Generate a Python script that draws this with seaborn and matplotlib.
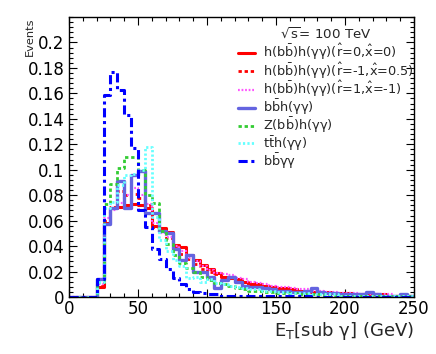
import numpy as np
import matplotlib
matplotlib.use("Agg")
import matplotlib.pyplot as plt
import seaborn as sns
from matplotlib.ticker import MultipleLocator

# ---- data: normalized E_T distributions, 5 GeV bins from 0 to 250 GeV ----
bin_edges = list(range(0, 255, 5))

h_r0_x0 = [0, 0, 0, 0, 0.008, 0.058, 0.070, 0.071, 0.072, 0.073,
           0.072, 0.070, 0.056, 0.054, 0.051, 0.041, 0.039, 0.033, 0.029, 0.025,
           0.022, 0.019, 0.016, 0.015, 0.014, 0.012, 0.010, 0.010, 0.009, 0.008,
           0.007, 0.007, 0.006, 0.005, 0.005, 0.004, 0.004, 0.004, 0.003, 0.003,
           0.003, 0.002, 0.002, 0.002, 0.002, 0.002, 0.001, 0.001, 0.001, 0.001]
h_rm1_x05 = [0, 0, 0, 0, 0.009, 0.060, 0.071, 0.083, 0.080, 0.081,
             0.078, 0.072, 0.055, 0.052, 0.046, 0.039, 0.034, 0.030, 0.026, 0.022,
             0.020, 0.018, 0.016, 0.015, 0.013, 0.012, 0.011, 0.010, 0.009, 0.008,
             0.007, 0.007, 0.006, 0.005, 0.005, 0.004, 0.004, 0.003, 0.003, 0.003,
             0.002, 0.002, 0.002, 0.002, 0.002, 0.001, 0.001, 0.001, 0.001, 0.001]
h_r1_xm1 = [0, 0, 0, 0, 0.010, 0.062, 0.068, 0.074, 0.080, 0.086,
            0.080, 0.073, 0.058, 0.050, 0.047, 0.040, 0.036, 0.031, 0.028, 0.024,
            0.021, 0.019, 0.018, 0.017, 0.015, 0.014, 0.012, 0.011, 0.010, 0.009,
            0.008, 0.008, 0.007, 0.006, 0.006, 0.005, 0.005, 0.004, 0.004, 0.003,
            0.003, 0.003, 0.002, 0.002, 0.002, 0.002, 0.002, 0.001, 0.001, 0.001]
bbh_yy = [0, 0, 0, 0, 0.014, 0.057, 0.070, 0.091, 0.070, 0.096,
          0.099, 0.066, 0.066, 0.052, 0.050, 0.038, 0.029, 0.033, 0.020, 0.020,
          0.016, 0.007, 0.013, 0.016, 0.012, 0.009, 0.008, 0.008, 0.007, 0.006,
          0.005, 0.005, 0.004, 0.004, 0.005, 0.007, 0.004, 0.003, 0.003, 0.002,
          0.002, 0.002, 0.002, 0.004, 0.002, 0.001, 0.001, 0.001, 0.002, 0.001]
zh_yy = [0, 0, 0, 0, 0.012, 0.073, 0.089, 0.101, 0.110, 0.110,
         0.100, 0.080, 0.074, 0.052, 0.042, 0.033, 0.027, 0.023, 0.020, 0.016,
         0.013, 0.011, 0.010, 0.009, 0.007, 0.006, 0.005, 0.005, 0.004, 0.004,
         0.003, 0.003, 0.003, 0.002, 0.002, 0.002, 0.002, 0.001, 0.001, 0.001,
         0.001, 0.001, 0.001, 0.001, 0.001, 0.0005, 0.0005, 0.0005, 0.0005, 0.0005]
tth_yy = [0, 0, 0, 0, 0.012, 0.070, 0.075, 0.088, 0.096, 0.097,
          0.100, 0.118, 0.063, 0.045, 0.036, 0.029, 0.024, 0.015, 0.016, 0.012,
          0.014, 0.011, 0.010, 0.009, 0.008, 0.007, 0.006, 0.006, 0.005, 0.005,
          0.004, 0.004, 0.003, 0.003, 0.003, 0.002, 0.002, 0.002, 0.002, 0.001,
          0.001, 0.001, 0.001, 0.001, 0.001, 0.001, 0.001, 0.0005, 0.0005, 0.0005]
bb_yy = [0, 0, 0, 0, 0.014, 0.159, 0.177, 0.163, 0.143, 0.117,
         0.068, 0.055, 0.038, 0.030, 0.022, 0.015, 0.010, 0.006, 0.004, 0.003,
         0.002, 0.002, 0.001, 0.001, 0.001, 0.0005, 0.0005, 0.0005, 0.0005, 0.0005,
         0.0005, 0.0005, 0.0005, 0.0005, 0.0005, 0, 0, 0, 0, 0,
         0, 0, 0, 0, 0, 0, 0, 0, 0, 0]

labels = [
    r"h(b$\bar{b}$)h(γγ)($\hat{r}$=0,$\hat{x}$=0)",
    r"h(b$\bar{b}$)h(γγ)($\hat{r}$=-1,$\hat{x}$=0.5)",
    r"h(b$\bar{b}$)h(γγ)($\hat{r}$=1,$\hat{x}$=-1)",
    r"b$\bar{b}$h(γγ)",
    r"Z(b$\bar{b}$)h(γγ)",
    r"t$\bar{t}$h(γγ)",
    r"b$\bar{b}$γγ",
]
y_ticks = [0, 0.02, 0.04, 0.06, 0.08, 0.1, 0.12, 0.14, 0.16, 0.18, 0.2]
y_tick_labels = ["0", "0.02", "0.04", "0.06", "0.08", "0.1", "0.12", "0.14", "0.16", "0.18", "0.2"]
x_ticks = [0, 50, 100, 150, 200, 250]

# ---- styling ----
sns.set_theme(style="ticks")
plt.rcParams["font.family"] = ["DejaVu Sans"]
plt.rcParams["mathtext.default"] = "regular"
plt.rcParams["mathtext.fontset"] = "dejavusans"

fig = plt.figure(figsize=(4.36, 3.54), dpi=100)
fig.patch.set_facecolor("white")
ax = fig.add_axes([69 / 436, 1 - 297 / 354, 345 / 436, 280 / 354])
ax.set_facecolor("white")

series = [h_r0_x0, h_rm1_x05, h_r1_xm1, bbh_yy, zh_yy, tth_yy, bb_yy]
colors = ["#ff0000", "#ff0000", "#ff55ff", "#6464e0", "#33cc33", "#66ffff", "#0000ff"]
styles = ["-", (0, (1.2, 1.0)), (0, (0.8, 0.8)), "-", (0, (1.2, 1.0)), (0, (0.8, 0.8)),
          (0, (3.0, 1.2, 1.0, 1.2))]
widths = [2.2, 2.0, 1.6, 2.4, 2.0, 2.0, 2.2]

centers = [e + 2.5 for e in bin_edges[:-1]]
handles = []
for vals, col, ls, lw in zip(series, colors, styles, widths):
    sns.histplot(x=centers, weights=vals, bins=bin_edges, element="step", fill=False,
                 color=col, linestyle=ls, linewidth=lw, ax=ax)
    handles.append(ax.lines[-1])

ax.set_xlim(0, 250)
ax.set_ylim(0, 0.22)
ax.set_xticks(x_ticks)
ax.set_xticklabels([str(t) for t in x_ticks])
ax.set_yticks(y_ticks)
ax.set_yticklabels(y_tick_labels)
ax.xaxis.set_minor_locator(MultipleLocator(10))
ax.yaxis.set_minor_locator(MultipleLocator(0.004))
ax.tick_params(which="both", direction="in", top=True, right=True, colors="black",
               width=0.8, labelsize=12)
ax.tick_params(which="major", length=5.5)
ax.tick_params(which="minor", length=2.8)
ax.tick_params(axis="x", which="major", pad=2.5)
ax.tick_params(axis="y", which="major", pad=3.2)
for sp in ax.spines.values():
    sp.set_color("black")
    sp.set_linewidth(1.0)

ax.set_xlabel(r"E$_{T}$[sub γ] (GeV)", loc="right", fontsize=13, labelpad=1)
ax.set_ylabel("Events", loc="top", fontsize=8.2)
ax.yaxis.set_label_coords(-0.098, 1.0)

leg = ax.legend(handles, labels, title=r"$\sqrt{s}$= 100 TeV", frameon=False,
                loc="upper left", bbox_to_anchor=(238 / 436, 1 - 27 / 354),
                bbox_transform=fig.transFigure, fontsize=9.3, title_fontsize=9.6,
                handlelength=1.35, handletextpad=0.6, labelspacing=-0.12,
                borderpad=0, borderaxespad=0)
leg._legend_box.sep = 0

fig.savefig("out.png", dpi=100)
